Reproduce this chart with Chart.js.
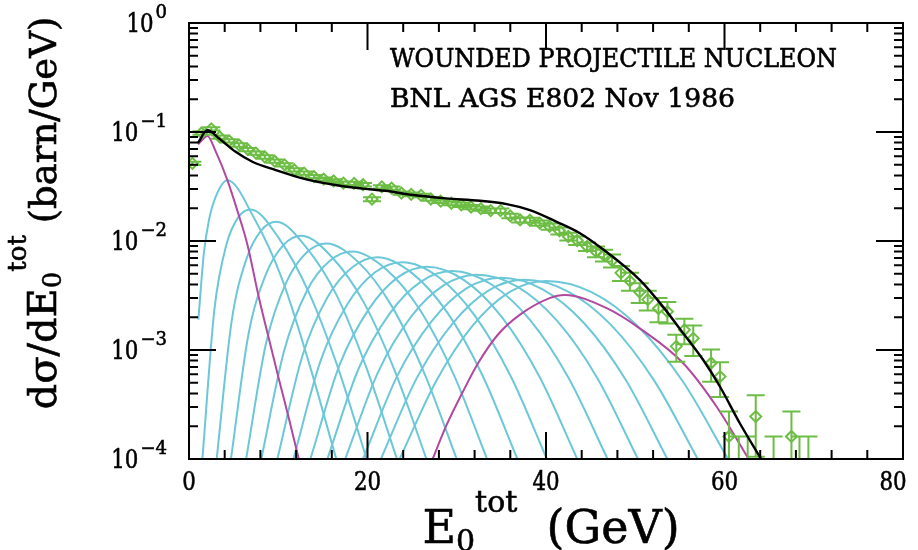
<!DOCTYPE html>
<html>
<head>
<meta charset="utf-8">
<script src="https://cdn.jsdelivr.net/npm/chart.js@4.4.1/dist/chart.umd.min.js"></script>
<style>
html,body{margin:0;padding:0;background:#fff;}
#wrap{width:918px;height:550px;position:relative;}
</style>
</head>
<body>
<div id="wrap"><canvas id="c" width="918" height="550"></canvas></div>
<script>
// ---------------- axis ranges and labels ----------------
const X_MIN = 0, X_MAX = 80;
const Y_MIN = 1e-4, Y_MAX = 1;
const xTickValues = [0, 20, 40, 60, 80];
const xTickLabels = ['0', '20', '40', '60', '80'];
const yTickValues = [1, 0.1, 0.01, 0.001, 0.0001];
const yTickExponents = ['0', '\u22121', '\u22122', '\u22123', '\u22124'];
const textLines = ['WOUNDED PROJECTILE NUCLEON', 'BNL AGS E802 Nov 1986'];

// ---------------- measured data (E802) ----------------
const dataX = [0.38,1.40,2.50,3.45,4.50,5.60,6.60,7.50,8.50,9.60,10.70,11.80,12.90,14.00,15.10,16.20,17.30,18.50,19.50,20.50,
  21.60,22.70,23.80,24.90,26.00,27.10,28.20,29.40,30.50,31.60,32.70,33.80,34.90,36.00,37.10,38.20,39.30,40.40,41.50,42.50,
  43.50,44.60,45.60,46.50,47.40,48.40,49.40,50.50,51.40,52.60,53.60,54.60,55.50,56.50,58.50,59.50,60.50,63.50,67.50];
const dataY = [0.0515,0.098,0.107,0.090,0.083,0.076,0.069,0.064,0.059,0.054,0.050,0.045,0.042,0.039,0.037,0.0355,0.034,0.0338,0.0328,0.0242,
  0.0314,0.0306,0.0275,0.0268,0.0262,0.0243,0.0232,0.0222,0.0215,0.0205,0.0198,0.0190,0.0190,0.0170,0.0156,0.0155,0.0146,0.0136,0.0124,0.0110,
  0.0101,0.0089,0.0080,0.0074,0.0066,0.0051,0.0043,0.0034,0.0029,0.0024,0.00225,0.00108,0.00153,0.00128,0.00076,0.00057,0.000161,0.000245,0.000161];
const dataErr = [0.0018,0.0035,0.0037,0.0031,0.0029,0.0027,0.0024,0.0022,0.0021,0.0019,0.0018,0.0016,0.0015,0.0014,0.0013,0.0013,0.0012,0.0012,0.0012,0.0010,
  0.0011,0.0011,0.0010,0.0010,0.0010,0.0009,0.0009,0.0009,0.0010,0.0009,0.0009,0.0009,0.0009,0.0008,0.0008,0.0008,0.0008,0.0009,0.0009,0.0009,
  0.0009,0.0008,0.0009,0.0009,0.0009,0.0008,0.0008,0.0007,0.0006,0.0006,0.0005,0.0003,0.0004,0.0004,0.00025,0.0002,0.000112,0.00014,0.000112];
// empty bins: only an upper error bar
const emptyX = [61.6, 62.6, 65.5, 68.4, 69.4];
const emptyHi = [0.000161, 0.000161, 0.000161, 0.000161, 0.000161];

// ---------------- total model (black) ----------------
const blackX = [1.0,2.06,3.36,5.23,7.1,9.71,12.7,16.4,20.2,22.0,25.1,28.8,32.6,35.6,38.2,41.2,43.8,46.3,50.5,53.1,55.35,57.6,59.5,61.7,64.1];
const blackY = [0.079,0.104,0.0873,0.0658,0.0533,0.0447,0.0375,0.0326,0.0298,0.0289,0.0264,0.0246,0.0234,0.0218,0.0192,0.0150,0.0118,0.0085,0.0044,0.0025,0.00143,0.000813,0.00046,0.000214,0.0001];

// ---------------- single (n=1) and maximal (magenta) components ----------------
const magLowX = [1.0,1.5,2.06,3.0,4.3,5.4,6.54,7.84,8.96,10.08,11.2,12.3];
const magLowY = [0.077,0.085,0.092,0.066,0.0362,0.0192,0.0093,0.0030,0.00126,0.000537,0.000234,0.0001];
const magHighX = [27.3,28.8,30.7,32.4,34.6,37.05,40.4,42.1,46.8,50.5,55.35,59.1,62.7];
const magHighY = [0.0001,0.0002,0.000416,0.000759,0.00138,0.0021,0.00299,0.0032,0.00242,0.00158,0.000759,0.000303,0.0001];

// ---------------- intermediate components (cyan), one row per curve ----------------
const cyanX = [
  [1.05,1.67,2.24,3.0,4.3,7.35,10.4,13.45,16.5],
  [1.5,2.85,4.2,5.55,6.9,10.15,13.4,16.65,19.9],
  [3.1,4.775,6.45,8.125,9.8,13.175,16.55,19.925,23.3],
  [4.7,6.675,8.65,10.625,12.6,16.1,19.6,23.1,26.6],
  [6.4,8.65,10.9,13.15,15.4,19.05,22.7,26.35,30.0],
  [8.1,10.65,13.2,15.75,18.3,22.075,25.85,29.625,33.4],
  [9.9,12.7,15.5,18.3,21.1,25.025,28.95,32.875,36.8],
  [11.7,14.75,17.8,20.85,23.9,27.95,32.0,36.05,40.1],
  [13.6,16.875,20.15,23.425,26.7,30.9,35.1,39.3,43.5],
  [15.5,19.0,22.5,26.0,29.5,33.85,38.2,42.55,46.9],
  [17.5,21.175,24.85,28.525,32.2,36.725,41.25,45.775,50.3],
  [19.5,23.35,27.2,31.05,34.9,39.575,44.25,48.925,53.6],
  [21.5,25.5,29.5,33.5,37.5,42.375,47.25,52.125,57.0],
  [23.6,27.7,31.8,35.9,40.0,45.1,50.2,55.3,60.4]
];
const cyanY = [
  [0.0019,0.0078,0.0156,0.0255,0.036,0.0159,0.00454,0.000758,0.0001],
  [0.0001,0.00237,0.00932,0.01665,0.0195,0.01036,0.00342,0.000704,0.0001],
  [0.0001,0.00183,0.0069,0.01259,0.0150,0.00865,0.00317,0.000671,0.0001],
  [0.0001,0.00141,0.00502,0.00927,0.0112,0.00699,0.00272,0.00063,0.0001],
  [0.0001,0.00117,0.00418,0.00781,0.0095,0.0063,0.00254,0.000618,0.0001],
  [0.0001,0.000977,0.00348,0.00654,0.0080,0.00551,0.00235,0.000603,0.0001],
  [0.0001,0.00088,0.00303,0.00574,0.0071,0.00505,0.0022,0.000587,0.0001],
  [0.0001,0.0008,0.00267,0.00516,0.0064,0.00468,0.00208,0.000574,0.0001],
  [0.0001,0.000731,0.00237,0.00466,0.0058,0.00433,0.00198,0.000562,0.0001],
  [0.0001,0.000673,0.00217,0.00424,0.0053,0.00401,0.00189,0.000551,0.0001],
  [0.0001,0.000623,0.0020,0.00391,0.0049,0.00384,0.00185,0.000549,0.0001],
  [0.0001,0.000582,0.00184,0.00366,0.0046,0.00362,0.00177,0.000534,0.0001],
  [0.0001,0.000549,0.00174,0.00349,0.0044,0.00347,0.00171,0.000524,0.0001],
  [0.0001,0.000519,0.00168,0.0034,0.0043,0.0034,0.00168,0.000519,0.0001]
];

// ---------------- styles ----------------
const GREEN = '#6dbd45';
const CYAN = '#6cc8d8';
const MAGENTA = '#b2489f';
const SERIF = '"DejaVu Serif"';
const CAP = 9;
const TEXT_STROKE = 0.6;

function pts(xs, ys) { return xs.map((x, i) => ({ x: x, y: ys[i] })); }

const lineCommon = { pointRadius: 0, pointHoverRadius: 0, fill: false, cubicInterpolationMode: 'monotone', clip: 0 };

const datasets = [];
datasets.push(Object.assign({ label: 'total', data: pts(blackX, blackY), borderColor: '#000', borderWidth: 2.4, order: 0 }, lineCommon));
datasets.push({
  label: 'E802 data', data: pts(dataX, dataY), showLine: false,
  pointStyle: 'rectRot', pointRadius: 5.5, pointHoverRadius: 5.5, pointBorderWidth: 2,
  borderColor: GREEN, pointBorderColor: GREEN, backgroundColor: 'rgba(0,0,0,0)', pointBackgroundColor: 'rgba(0,0,0,0)',
  order: 1, clip: 0
});
datasets.push(Object.assign({ label: 'n=1', data: pts(magLowX, magLowY), borderColor: MAGENTA, borderWidth: 2, order: 2 }, lineCommon));
datasets.push(Object.assign({ label: 'n=max', data: pts(magHighX, magHighY), borderColor: MAGENTA, borderWidth: 2, order: 2 }, lineCommon));
cyanX.forEach((xs, k) => {
  datasets.push(Object.assign({ label: 'n=' + (k + 2), data: pts(xs, cyanY[k]), borderColor: CYAN, borderWidth: 2, order: 3 }, lineCommon));
});

// ---------------- drawing helpers ----------------
function fillScaled(ctx, text, x, y, font, sx, align) {
  ctx.font = font;
  const w = ctx.measureText(text).width * sx;
  let x0 = x;
  if (align === 'center') x0 = x - w / 2;
  else if (align === 'right') x0 = x - w;
  ctx.save();
  ctx.translate(x0, y);
  ctx.scale(sx, 1);
  ctx.textAlign = 'left';
  ctx.fillText(text, 0, 0);
  ctx.lineWidth = TEXT_STROKE;
  ctx.strokeText(text, 0, 0);
  ctx.restore();
  return w;
}
function textW(ctx, text, font) { ctx.font = font; return ctx.measureText(text).width; }
function richWidth(ctx, parts) {
  let w = 0;
  for (const p of parts) { ctx.font = p.font; w += ctx.measureText(p.t).width; }
  return w;
}
function drawRich(ctx, parts, x, y) {
  let cx = x;
  ctx.lineWidth = TEXT_STROKE;
  for (const p of parts) {
    ctx.font = p.font;
    ctx.fillText(p.t, cx, y + (p.dy || 0));
    ctx.strokeText(p.t, cx, y + (p.dy || 0));
    cx += ctx.measureText(p.t).width;
  }
}

const errorBars = {
  id: 'errorBars',
  beforeDatasetDraw(chart, args) {
    if (chart.data.datasets[args.index].label !== 'E802 data') return;
    const { ctx, chartArea: a, scales: { x, y } } = chart;
    ctx.save();
    ctx.beginPath();
    ctx.rect(a.left, a.top, a.right - a.left, a.bottom - a.top);
    ctx.clip();
    ctx.strokeStyle = GREEN;
    ctx.lineWidth = 2;
    ctx.beginPath();
    for (let i = 0; i < dataX.length; i++) {
      const px = x.getPixelForValue(dataX[i]);
      const hi = dataY[i] + dataErr[i];
      const lo = dataY[i] - dataErr[i];
      const pHi = y.getPixelForValue(hi);
      const pLo = lo > 0 ? y.getPixelForValue(lo) : a.bottom + 20;
      ctx.moveTo(px, pHi); ctx.lineTo(px, pLo);
      ctx.moveTo(px - CAP, pHi); ctx.lineTo(px + CAP, pHi);
      if (lo > 0) { ctx.moveTo(px - CAP, pLo); ctx.lineTo(px + CAP, pLo); }
    }
    for (let i = 0; i < emptyX.length; i++) {
      const px = x.getPixelForValue(emptyX[i]);
      const pHi = y.getPixelForValue(emptyHi[i]);
      ctx.moveTo(px, pHi); ctx.lineTo(px, a.bottom + 5);
      ctx.moveTo(px - CAP, pHi); ctx.lineTo(px + CAP, pHi);
    }
    ctx.stroke();
    ctx.restore();
  }
};

const frameAndText = {
  id: 'frameAndText',
  afterDatasetsDraw(chart) {
    const { ctx, chartArea: a, scales: { x, y } } = chart;
    ctx.save();
    ctx.strokeStyle = '#000';
    ctx.lineWidth = 2;
    ctx.strokeRect(a.left, a.top, a.right - a.left, a.bottom - a.top);
    ctx.beginPath();
    for (let v = X_MIN + 4; v < X_MAX; v += 4) {
      const px = x.getPixelForValue(v);
      const L = (v % 20 === 0) ? 27 : 9;
      ctx.moveTo(px, a.bottom); ctx.lineTo(px, a.bottom - L);
      ctx.moveTo(px, a.top); ctx.lineTo(px, a.top + L);
    }
    for (let e = -4; e < 0; e++) {
      for (let m = 1; m < 10; m++) {
        if (m === 1 && e === -4) continue;
        const py = y.getPixelForValue(m * Math.pow(10, e));
        const L = (m === 1) ? 27 : 9;
        ctx.moveTo(a.left, py); ctx.lineTo(a.left + L, py);
        ctx.moveTo(a.right, py); ctx.lineTo(a.right - L, py);
      }
    }
    ctx.stroke();

    ctx.fillStyle = '#000';
    ctx.strokeStyle = '#000';
    ctx.textBaseline = 'alphabetic';
    const TICKF = '26px ' + SERIF;
    xTickValues.forEach((v, i) => {
      let cx = x.getPixelForValue(v);
      if (i === xTickValues.length - 1) cx -= 10;
      fillScaled(ctx, xTickLabels[i], cx, 490, TICKF, 0.82, 'center');
    });
    yTickValues.forEach((v, i) => {
      const py = y.getPixelForValue(v);
      const right = 167;
      const SUPF = '19px ' + SERIF;
      const ew = textW(ctx, yTickExponents[i], SUPF) * 0.95;
      const bw = textW(ctx, '10', TICKF) * 0.82;
      const x0 = right - ew - bw - 2;
      fillScaled(ctx, '10', x0, py + 9, TICKF, 0.82, 'left');
      fillScaled(ctx, yTickExponents[i], x0 + bw + 2, py - 5, SUPF, 0.95, 'left');
    });

    const ANNF = '25.5px ' + SERIF;
    fillScaled(ctx, textLines[0], 390, 66.5, ANNF, 447 / textW(ctx, textLines[0], ANNF), 'left');
    fillScaled(ctx, textLines[1], 390, 107.3, ANNF, 345 / textW(ctx, textLines[1], ANNF), 'left');

    const xParts = [
      { t: 'E', font: '46px ' + SERIF },
      { t: '0', font: '30px ' + SERIF, dy: 8 },
      { t: 'tot', font: '30px ' + SERIF, dy: -31 },
      { t: '  (GeV)', font: '46px ' + SERIF }
    ];
    const xw = richWidth(ctx, xParts);
    drawRich(ctx, xParts, 551 - xw / 2, 543);

    const yParts = [
      { t: 'd\u03c3/dE', font: '40px ' + SERIF },
      { t: '0', font: '26px ' + SERIF, dy: 5 },
      { t: 'tot', font: '26px ' + SERIF, dy: -30 },
      { t: ' (barn/GeV)', font: '37px ' + SERIF }
    ];
    const yw = richWidth(ctx, yParts);
    ctx.save();
    ctx.translate(56, 0);
    ctx.rotate(-Math.PI / 2);
    drawRich(ctx, yParts, -(213 + yw / 2), 0);
    ctx.restore();
    ctx.restore();
  }
};

new Chart(document.getElementById('c'), {
  type: 'line',
  data: { datasets: datasets },
  options: {
    responsive: false,
    devicePixelRatio: 1,
    animation: false,
    events: [],
    layout: { padding: { left: 189, right: 15, top: 23, bottom: 91 } },
    scales: {
      x: { type: 'linear', min: X_MIN, max: X_MAX, display: false },
      y: { type: 'logarithmic', min: Y_MIN, max: Y_MAX, display: false }
    },
    plugins: { legend: { display: false }, tooltip: { enabled: false }, title: { display: false } }
  },
  plugins: [errorBars, frameAndText]
});
</script>
</body>
</html>
